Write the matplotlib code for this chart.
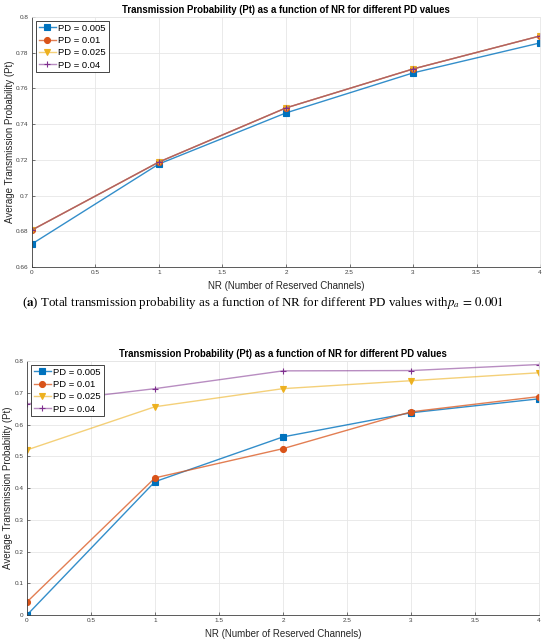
import numpy as np
import matplotlib
matplotlib.use("Agg")
import matplotlib.pyplot as plt

plt.rcParams['font.family'] = ['Liberation Sans', 'DejaVu Sans']
plt.rcParams['mathtext.fontset'] = 'stix'

nr = [0, 1, 2, 3, 4]
pd_labels = ['PD = 0.005', 'PD = 0.01', 'PD = 0.025', 'PD = 0.04']

# (a) pa = 0.001
pt_a_005 = [0.6729, 0.7177, 0.7463, 0.7687, 0.7855]
pt_a_01 = [0.6807, 0.7188, 0.7491, 0.7709, 0.7894]
pt_a_025 = [0.6807, 0.7188, 0.7491, 0.7709, 0.7894]
pt_a_04 = [0.6807, 0.7188, 0.7491, 0.7709, 0.7894]

# second panel
pt_b_005 = [0.0, 0.420, 0.561, 0.637, 0.681]
pt_b_01 = [0.041, 0.432, 0.524, 0.640, 0.688]
pt_b_025 = [0.520, 0.656, 0.713, 0.738, 0.763]
pt_b_04 = [0.665, 0.713, 0.769, 0.770, 0.789]

colors = ['#0072BD', '#D95319', '#EDB120', '#7E2F8E']
line_alpha = [0.8, 0.75, 0.6, 0.55]
markers = ['s', 'o', 'v', '+']

title = 'Transmission Probability (Pt) as a function of NR for different PD values'
caption = r'($\mathbf{a}$) Total transmission probability as a function of NR for different PD values with$p_a\,=\,0.001$'

fig = plt.figure(figsize=(5.5, 6.44), dpi=100)
ax1 = fig.add_axes([0.058, 0.5854, 0.924, 0.3882])
ax2 = fig.add_axes([0.049, 0.0450, 0.931, 0.3944])


def style(ax, series, ylim, yticks, ticklabels, ylab_x):
    for vals, c, a, m, lab in zip(series, colors, line_alpha, markers, pd_labels):
        lc = matplotlib.colors.to_rgba(c, a)
        ax.plot(nr, vals, color=lc, lw=1.0, marker=m, markersize=4.3 if m != '+' else 5,
                markerfacecolor=c, markeredgecolor=c, markeredgewidth=0.8, label=lab)
    ax.set_xlim(0, 4)
    ax.set_ylim(*ylim)
    ax.set_xticks(np.arange(0, 4.01, 0.5))
    ax.set_xticklabels(['0', '0.5', '1', '1.5', '2', '2.5', '3', '3.5', '4'])
    ax.set_yticks(yticks)
    ax.set_yticklabels(ticklabels)
    ax.grid(True, color='#e6e6e6', lw=0.6)
    ax.set_axisbelow(True)
    ax.tick_params(direction='in', length=2.5, width=0.5, labelsize=4.6,
                   colors='#404040', pad=2.5, top=False, right=False)
    for s in ['left', 'bottom']:
        ax.spines[s].set_color('#404040')
        ax.spines[s].set_linewidth(0.6)
    for s in ['top', 'right']:
        ax.spines[s].set_color('#e6e6e6')
        ax.spines[s].set_linewidth(0.6)
    ax.set_title(title, fontsize=6.9, fontweight='bold', pad=3)
    ax.set_xlabel('NR (Number of Reserved Channels)', fontsize=7, color='#262626', labelpad=4)
    ax.set_ylabel('Average Transmission Probability (Pt)', fontsize=7, color='#262626')
    ax.yaxis.set_label_coords(ylab_x, 0.5)
    leg = ax.legend(loc='upper left', fontsize=6.8, handlelength=1.8, handletextpad=0.3,
                    labelspacing=0.35, borderpad=0.3, borderaxespad=0.4, fancybox=False,
                    framealpha=1)
    leg.get_frame().set_edgecolor('#262626')
    leg.get_frame().set_linewidth(0.6)


style(ax1, [pt_a_005, pt_a_01, pt_a_025, pt_a_04], (0.66, 0.8),
      np.arange(0.66, 0.801, 0.02), ['0.66', '0.68', '0.7', '0.72', '0.74', '0.76', '0.78', '0.8'],
      -0.033)
style(ax2, [pt_b_005, pt_b_01, pt_b_025, pt_b_04], (0, 0.8),
      np.arange(0, 0.801, 0.1), ['0', '0.1', '0.2', '0.3', '0.4', '0.5', '0.6', '0.7', '0.8'],
      -0.027)

fig.text(0.478, 0.5295, caption, ha='center', va='center', fontsize=9.3,
         family=['Liberation Serif', 'DejaVu Serif'])

fig.savefig('out.png', dpi=100)
